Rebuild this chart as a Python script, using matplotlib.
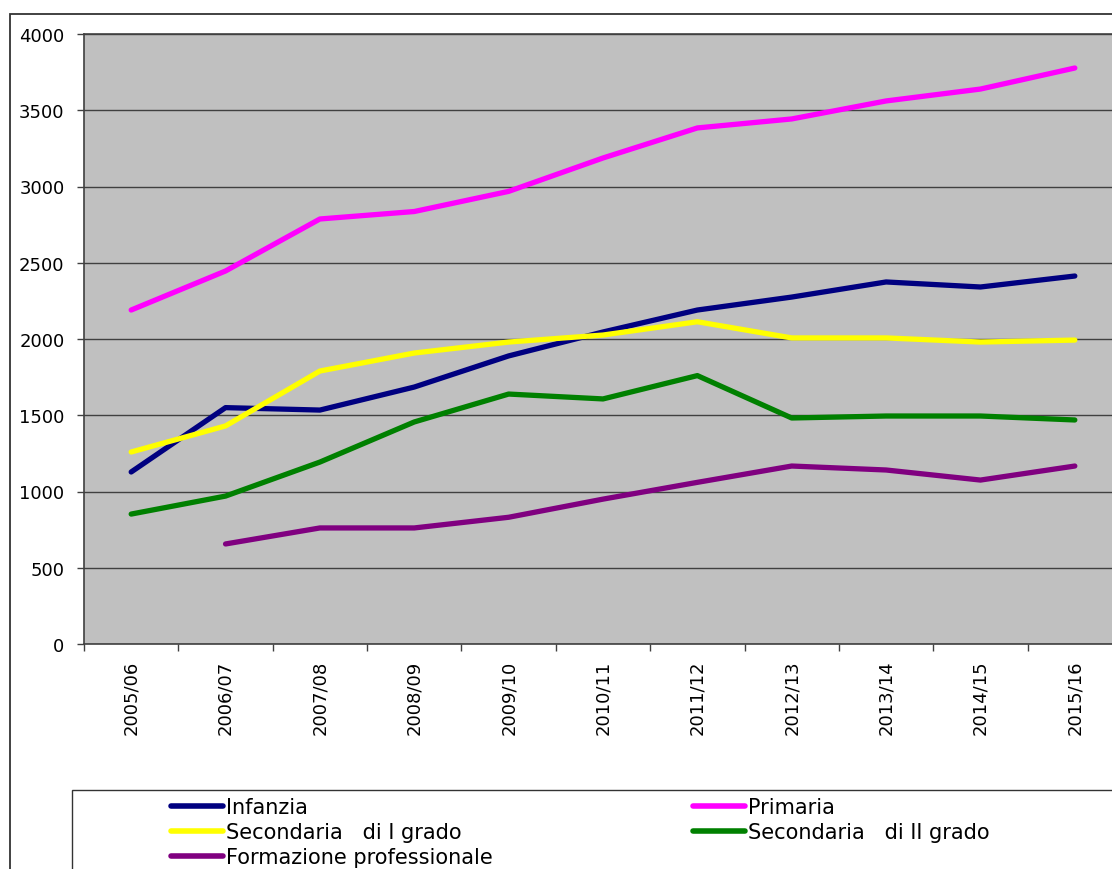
import matplotlib
matplotlib.use("Agg")
import matplotlib.pyplot as plt
from matplotlib.patches import Rectangle
from matplotlib.lines import Line2D
import numpy as np

# anni scolastici
years = ["2005/06", "2006/07", "2007/08", "2008/09", "2009/10", "2010/11",
         "2011/12", "2012/13", "2013/14", "2014/15", "2015/16"]

infanzia = [1128, 1550, 1534, 1685, 1889, 2046, 2190, 2275, 2374, 2341, 2413]
primaria = [2190, 2446, 2787, 2836, 2968, 3187, 3384, 3443, 3561, 3639, 3777]
sec_i = [1259, 1430, 1790, 1908, 1980, 2026, 2113, 2007, 2007, 1980, 1993]
sec_ii = [852, 970, 1193, 1456, 1639, 1607, 1760, 1482, 1495, 1495, 1469]
formazione = [np.nan, 656, 761, 761, 831, 950, 1060, 1167, 1141, 1075, 1167]

series = [
    ("Infanzia", infanzia, "#000080"),
    ("Primaria", primaria, "#FF00FF"),
    ("Secondaria   di I grado", sec_i, "#FFFF00"),
    ("Secondaria   di II grado", sec_ii, "#008000"),
    ("Formazione professionale", formazione, "#800080"),
]

W, H = 1112, 870
fig = plt.figure(figsize=(W / 100, H / 100), dpi=100)

# bordo esterno del grafico e riquadro legenda (tagliati a destra/in basso)
fig.patches.append(Rectangle((10 / W, -0.1), 1.2, 1 - 15 / H + 0.1,
                             transform=fig.transFigure, fill=False,
                             edgecolor="#333333", linewidth=1.3))
fig.patches.append(Rectangle((72 / W, -0.1), 1.2, 1 - 791 / H + 0.1,
                             transform=fig.transFigure, fill=False,
                             edgecolor="#333333", linewidth=1.0))

ax = fig.add_axes([84 / W, 225 / H, 1038 / W, 610 / H])
ax.set_facecolor("#C0C0C0")

x = np.arange(len(years))
handles = {}
for name, vals, col in series:
    ln, = ax.plot(x, vals, color=col, linewidth=3.8, solid_capstyle="round",
                  solid_joinstyle="round")
    handles[name] = ln

ax.set_xlim(-0.5, len(years) - 0.5)
ax.set_ylim(0, 4000)
ax.set_yticks(np.arange(0, 4001, 500))
ax.yaxis.grid(True, color="#404040", linewidth=1.0)
ax.set_axisbelow(True)

ax.set_xticks(x)
ax.set_xticklabels(years, rotation=90)
ax.set_xticks(np.arange(-0.5, len(years), 1), minor=True)
ax.tick_params(axis="x", which="major", length=0, pad=11, labelsize=13)
ax.tick_params(axis="x", which="minor", length=5, width=1, color="#404040",
               direction="out")
ax.tick_params(axis="y", length=5, width=1, color="#404040", pad=9,
               labelsize=13)

for side in ["left", "bottom", "top", "right"]:
    ax.spines[side].set_color("#404040")
    ax.spines[side].set_linewidth(1.2)

# legenda su due colonne, riga per riga
def make_legend(names, x_px):
    hs = [Line2D([], [], color=handles[n].get_color(), linewidth=4.0,
                 solid_capstyle="round") for n in names]
    leg = fig.legend(hs, names, loc="upper left",
                     bbox_to_anchor=(x_px / W, 1 - 798 / H),
                     frameon=False, fontsize=15, handlelength=2.5,
                     handletextpad=0.15, labelspacing=0.24, borderpad=0,
                     borderaxespad=0)
    return leg

make_legend(["Infanzia", "Secondaria   di I grado", "Formazione professionale"], 171)
make_legend(["Primaria", "Secondaria   di II grado"], 693)

fig.savefig("out.png", dpi=100)
